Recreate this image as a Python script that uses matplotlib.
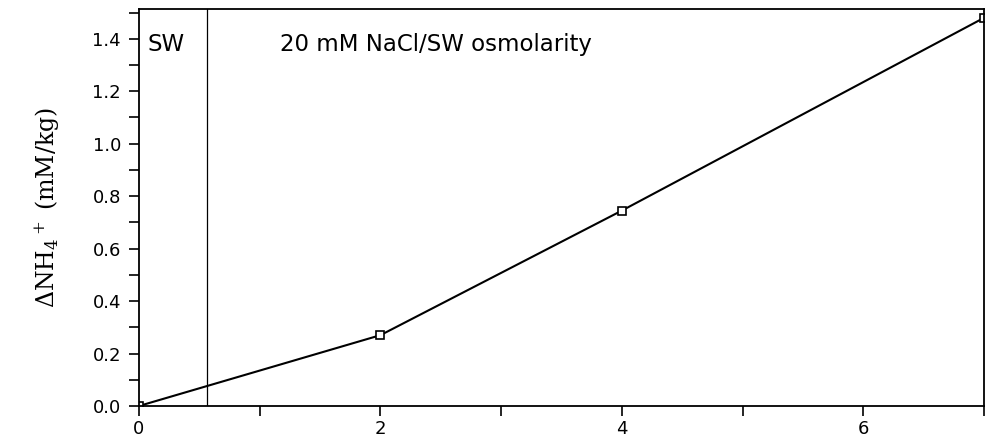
import matplotlib
matplotlib.use('Agg')
import matplotlib.pyplot as plt
from matplotlib.ticker import MultipleLocator

# data
time_h = [0, 2, 4, 7]
delta_nh4 = [0.0, 0.27, 0.745, 1.48]
switch_time = 0.56
region_labels = ['SW', '20 mM NaCl/SW osmolarity']

plt.rcParams['font.family'] = ['DejaVu Sans']
plt.rcParams['mathtext.fontset'] = 'dejavuserif'

fig = plt.figure(figsize=(9.89, 4.44), dpi=100)
ax = fig.add_axes([0.1405, 0.0856, 0.8545, 0.8944])

ax.plot(time_h, delta_nh4, color='black', lw=1.5, marker='s', ms=6,
        mfc='white', mec='black', mew=1.2)
ax.axvline(switch_time, color='black', lw=0.9)

ax.set_xlim(0, 7)
ax.set_ylim(0, 1.514)
ax.xaxis.set_major_locator(MultipleLocator(2))
ax.xaxis.set_minor_locator(MultipleLocator(1))
ax.yaxis.set_major_locator(MultipleLocator(0.2))
ax.yaxis.set_minor_locator(MultipleLocator(0.1))
ax.yaxis.set_major_formatter(plt.FormatStrFormatter('%.1f'))
ax.tick_params(which='both', direction='out', width=1.2, labelsize=13)
ax.tick_params(which='major', length=7, pad=6)
ax.tick_params(which='minor', length=7)
ax.tick_params(axis='x', pad=3)
for s in ax.spines.values():
    s.set_linewidth(1.3)

ax.text(0.07, 1.38, region_labels[0], fontsize=16.5, va='center', ha='left')
ax.text(1.17, 1.38, region_labels[1], fontsize=16.5, va='center', ha='left')

ax.set_ylabel(r'$\Delta$NH$_4{}^+$ (mM/kg)', family='DejaVu Serif',
              fontsize=17, labelpad=22)

plt.savefig('out.png', dpi=100)
